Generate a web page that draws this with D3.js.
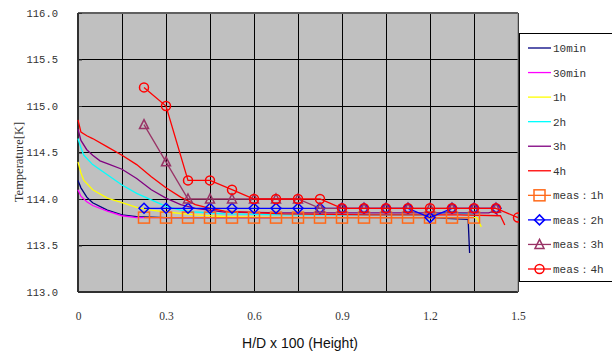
<!DOCTYPE html>
<html><head><meta charset="utf-8">
<script src="https://cdn.jsdelivr.net/npm/d3@7"></script>
<style>body{margin:0;background:#fff;}svg{display:block;}</style>
</head><body>
<script>
// ---- data ----
const xTicks = [0, 0.3, 0.6, 0.9, 1.2, 1.5];
const xGrid = [0,0.15,0.3,0.45,0.6,0.75,0.9,1.05,1.2,1.35,1.5];
const yTicks = [113.0, 113.5, 114.0, 114.5, 115.0, 115.5, 116.0];

const sim10minX = [0,0.01,0.03,0.05,0.1,0.15,0.2,0.3,0.5,0.8,1.0,1.2,1.33,1.335];
const sim10minY = [114.2,114.12,114.02,113.96,113.88,113.83,113.81,113.8,113.8,113.8,113.8,113.8,113.78,113.42];
const sim30minX = [0,0.01,0.03,0.05,0.1,0.15,0.2,0.3,0.5,0.8,1.0,1.2,1.35];
const sim30minY = [114.1,114.03,113.97,113.93,113.87,113.82,113.8,113.8,113.8,113.8,113.8,113.8,113.8];
const sim1hX = [0,0.01,0.02,0.05,0.1,0.15,0.2,0.25,0.3,0.4,0.5,0.7,1.0,1.2,1.36,1.375];
const sim1hY = [114.4,114.28,114.2,114.1,114.01,113.96,113.91,113.88,113.86,113.83,113.81,113.8,113.8,113.8,113.8,113.7];
const sim2hX = [0,0.01,0.02,0.05,0.1,0.15,0.2,0.25,0.3,0.35,0.4,0.5,0.7,1.0,1.2,1.26,1.3,1.35];
const sim2hY = [114.65,114.55,114.47,114.37,114.26,114.15,114.06,113.99,113.92,113.88,113.86,113.84,113.83,113.83,113.83,113.86,113.85,113.83];
const sim3hX = [0,0.01,0.03,0.05,0.075,0.1,0.15,0.2,0.25,0.3,0.35,0.4,0.5,0.7,1.0,1.3,1.4,1.42,1.43];
const sim3hY = [114.75,114.63,114.53,114.47,114.41,114.38,114.32,114.22,114.1,114.01,113.94,113.9,113.86,113.85,113.85,113.85,113.85,113.87,113.83];
const sim4hX = [0,0.01,0.03,0.05,0.1,0.15,0.2,0.25,0.3,0.35,0.4,0.45,0.5,0.7,1.0,1.3,1.44,1.455];
const sim4hY = [114.85,114.72,114.68,114.65,114.56,114.47,114.37,114.24,114.12,114.02,113.94,113.9,113.87,113.84,113.83,113.83,113.82,113.72];

const meas1hX = [0.225,0.3,0.375,0.45,0.525,0.6,0.675,0.75,0.825,0.9,0.975,1.05,1.125,1.2,1.275,1.35];
const meas1hY = [113.8,113.8,113.8,113.8,113.8,113.8,113.8,113.8,113.8,113.8,113.8,113.8,113.8,113.8,113.8,113.8];
const meas2hX = [0.225,0.3,0.375,0.45,0.525,0.6,0.675,0.75,0.825,0.9,0.975,1.05,1.125,1.2,1.275,1.35,1.425];
const meas2hY = [113.9,113.9,113.9,113.9,113.9,113.9,113.9,113.9,113.9,113.9,113.9,113.9,113.9,113.8,113.9,113.9,113.9];
const meas3hX = [0.225,0.3,0.375,0.45,0.525,0.6,0.675,0.75,0.825,0.9,0.975,1.05,1.125,1.2,1.275,1.35,1.425];
const meas3hY = [114.8,114.4,114.0,114.0,114.0,114.0,114.0,114.0,113.9,113.9,113.9,113.9,113.9,113.9,113.9,113.9,113.9];
const meas4hX = [0.225,0.3,0.375,0.45,0.525,0.6,0.675,0.75,0.825,0.9,0.975,1.05,1.125,1.2,1.275,1.35,1.425,1.5];
const meas4hY = [115.2,115.0,114.2,114.2,114.1,114.0,114.0,114.0,114.0,113.9,113.9,113.9,113.9,113.9,113.9,113.9,113.9,113.8];

const simSeries = [
  {name:"10min", x:sim10minX, y:sim10minY, color:"#000080"},
  {name:"30min", x:sim30minX, y:sim30minY, color:"#ff00ff"},
  {name:"1h", x:sim1hX, y:sim1hY, color:"#ffff00"},
  {name:"2h", x:sim2hX, y:sim2hY, color:"#00ffff"},
  {name:"3h", x:sim3hX, y:sim3hY, color:"#800080"},
  {name:"4h", x:sim4hX, y:sim4hY, color:"#ff0000"}
];
const measSeries = [
  {name:"meas：1h", x:meas1hX, y:meas1hY, color:"#ff6a1a", marker:"square"},
  {name:"meas：2h", x:meas2hX, y:meas2hY, color:"#0000ff", marker:"diamond"},
  {name:"meas：3h", x:meas3hX, y:meas3hY, color:"#993366", marker:"triangle"},
  {name:"meas：4h", x:meas4hX, y:meas4hY, color:"#ff0000", marker:"circle"}
];

// ---- chart ----
const W = 612, H = 353;
const svg = d3.select("body").append("svg").attr("width", W).attr("height", H);
const L = 78, R = 518, T = 13, B = 292;
const x = d3.scaleLinear().domain([0, 1.5]).range([L, R]);
const y = d3.scaleLinear().domain([113, 116]).range([B, T]);

svg.append("rect").attr("x", L).attr("y", T).attr("width", R - L).attr("height", B - T).attr("fill", "#c0c0c0");

// grid
svg.append("g").selectAll("line").data(xGrid).join("line")
  .attr("x1", d => x(d)).attr("x2", d => x(d)).attr("y1", T).attr("y2", B)
  .attr("stroke", "#000").attr("stroke-width", 1).attr("shape-rendering", "crispEdges");
svg.append("g").selectAll("line").data(yTicks).join("line")
  .attr("x1", L).attr("x2", R).attr("y1", d => y(d)).attr("y2", d => y(d))
  .attr("stroke", "#000").attr("stroke-width", 1).attr("shape-rendering", "crispEdges");

// border
svg.append("line").attr("x1", L).attr("x2", R).attr("y1", T).attr("y2", T).attr("stroke", "#606060").attr("stroke-width", 2);
svg.append("line").attr("x1", L).attr("x2", R).attr("y1", B).attr("y2", B).attr("stroke", "#303030").attr("stroke-width", 2);
svg.append("line").attr("x1", L).attr("x2", L).attr("y1", T).attr("y2", B).attr("stroke", "#303030").attr("stroke-width", 2);
svg.append("line").attr("x1", R).attr("x2", R).attr("y1", T).attr("y2", B).attr("stroke", "#808080").attr("stroke-width", 1);

// y axis
const yAxis = d3.axisLeft(y).tickValues(yTicks).tickSize(-4).tickPadding(20).tickFormat(d => d3.format(".1f")(d));
const gy = svg.append("g").attr("transform", `translate(${L},0)`).call(yAxis);
gy.select(".domain").remove();
gy.selectAll(".tick line").attr("stroke", "#303030");
gy.selectAll("text").attr("font-family", "'Liberation Mono', monospace").attr("font-size", 10.5).attr("fill", "#333");

// x axis
const xAxis = d3.axisBottom(x).tickValues(xTicks).tickSize(0).tickPadding(20).tickFormat(d => d === 0 ? "0" : d3.format(".1f")(d));
const gx = svg.append("g").attr("transform", `translate(0,${B})`).call(xAxis);
gx.select(".domain").remove();
gx.selectAll("text").attr("font-family", "'Liberation Serif', serif").attr("font-size", 11.5).attr("fill", "#333");

// titles
svg.append("text").attr("transform", "translate(23,162) rotate(-90)").attr("text-anchor", "middle")
  .attr("font-family", "'Liberation Serif', serif").attr("font-size", 12.5).attr("fill", "#333").text("Temperature[K]");
svg.append("text").attr("x", 300).attr("y", 348).attr("text-anchor", "middle")
  .attr("font-family", "'Liberation Sans', Arial, sans-serif").attr("font-size", 14).attr("fill", "#111").text("H/D x 100 (Height)");

// lines
const line = d3.line().x(d => x(d[0])).y(d => y(d[1]));
const plot = svg.append("g");
simSeries.forEach(s => {
  plot.append("path").datum(s.x.map((v, i) => [v, s.y[i]]))
    .attr("d", line).attr("fill", "none").attr("stroke", s.color).attr("stroke-width", 1.3);
});

function drawMarker(g, type, cx, cy, color) {
  if (type === "square") {
    g.append("rect").attr("x", cx - 5.5).attr("y", cy - 5.5).attr("width", 11).attr("height", 11)
      .attr("fill", "none").attr("stroke", color).attr("stroke-width", 1.5);
  } else if (type === "diamond") {
    g.append("path").attr("d", `M${cx},${cy-5}L${cx+5},${cy}L${cx},${cy+5}L${cx-5},${cy}Z`)
      .attr("fill", "none").attr("stroke", color).attr("stroke-width", 1.5);
  } else if (type === "triangle") {
    g.append("path").attr("d", `M${cx},${cy-5}L${cx+4.5},${cy+4}L${cx-4.5},${cy+4}Z`)
      .attr("fill", "none").attr("stroke", color).attr("stroke-width", 1.5);
  } else {
    g.append("circle").attr("cx", cx).attr("cy", cy).attr("r", 4.5)
      .attr("fill", "none").attr("stroke", color).attr("stroke-width", 1.5);
  }
}
measSeries.forEach(s => {
  const pts = s.x.map((v, i) => [v, s.y[i]]);
  plot.append("path").datum(pts).attr("d", line).attr("fill", "none").attr("stroke", s.color).attr("stroke-width", 1.3);
  const g = plot.append("g");
  pts.forEach(p => drawMarker(g, s.marker, x(p[0]), y(p[1]), s.color));
});

// legend
const lg = svg.append("g");
lg.append("rect").attr("x", 519.5).attr("y", 33.5).attr("width", 100).attr("height", 248)
  .attr("fill", "#fff").attr("stroke", "#000").attr("stroke-width", 1);
const all = simSeries.concat(measSeries);
const ly = d3.scaleLinear().domain([0, 9]).range([48, 269]);
all.forEach((s, i) => {
  const yy = ly(i);
  lg.append("line").attr("x1", 528).attr("x2", 551).attr("y1", yy).attr("y2", yy).attr("stroke", s.color).attr("stroke-width", 1.3);
  if (s.marker) drawMarker(lg, s.marker, 539.5, yy, s.color);
  lg.append("text").attr("x", 553).attr("y", yy + 4).attr("font-family", "'Liberation Mono', monospace")
    .attr("font-size", 11).attr("fill", "#333").text(s.name);
});
</script>
</body></html>
